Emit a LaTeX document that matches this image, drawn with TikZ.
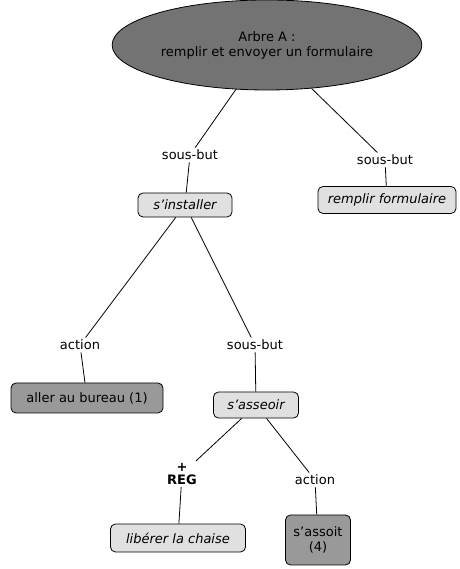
\documentclass[tikz,border=0pt]{standalone}
\usepackage{fontspec}
\setmainfont{DejaVu Sans}
\usepackage{tikz}
\usetikzlibrary{shapes.geometric}

\newcommand{\taille}{\fontsize{13}{15}\selectfont}

\tikzset{
    but/.style={draw, rounded corners=5pt, fill=black!12, font=\taille\itshape, inner sep=3pt},
    acte/.style={draw, rounded corners=5pt, fill=black!40, inner sep=3pt, align=center},
    lien/.style={inner sep=2pt, align=center}
}

\begin{document}
\begin{tikzpicture}[x=1pt, y=1pt, line width=.8pt, font=\taille]
    \useasboundingbox (0,0) rectangle (459,569);

    % Arbre.
    \node[ellipse, draw, fill=black!55, minimum width=273pt, minimum height=90pt, align=center] (arbre) at (267,524) {Arbre A :\\remplir et envoyer un formulaire};

    % Buts.
    \node[but, minimum width=94pt, minimum height=24pt] (installer) at (185,364) {s'installer};
    \node[but, minimum width=138pt, minimum height=27pt] (remplir) at (387,369) {remplir formulaire};
    \node[but, minimum width=85pt, minimum height=26pt] (asseoir) at (256,164) {s'asseoir};
    \node[but, minimum width=135pt, minimum height=28pt] (liberer) at (178,31) {libérer la chaise};

    % Actions.
    \node[acte, minimum width=152pt, minimum height=30pt] (aller) at (87,171) {aller au bureau (1)};
    \node[acte, minimum width=65pt, minimum height=50pt] (assoit) at (318,29) {s'assoit\\(4)};

    % Liens.
    \node[lien] (sb1) at (190,414) {sous-but};
    \node[lien] (sb2) at (385,409) {sous-but};
    \node[lien] (act1) at (80,224) {action};
    \node[lien] (sb3) at (255,224) {sous-but};
    \node[lien, font=\fontsize{13}{13}\selectfont\bfseries] (reg) at (182,95) {+\\REG};
    \node[lien] (act2) at (315,89) {action};

    % Traits.
    \draw (arbre) -- (sb1) -- (installer);
    \draw (arbre) -- (sb2) -- (remplir);
    \draw (installer) -- (act1) -- (aller);
    \draw (installer) -- (sb3) -- (asseoir);
    \draw (asseoir) -- (reg) -- (liberer);
    \draw (asseoir) -- (act2) -- (assoit);
\end{tikzpicture}
\end{document}
